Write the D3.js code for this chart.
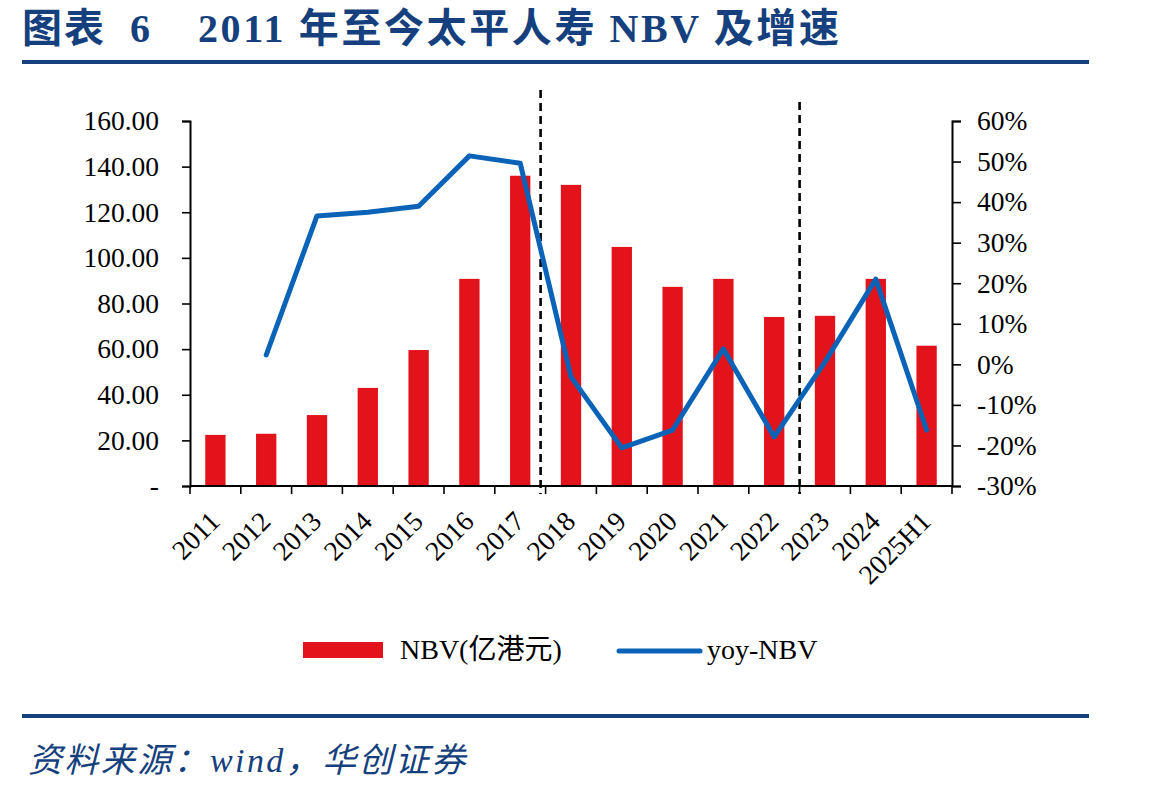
<!DOCTYPE html>
<html>
<head>
<meta charset="utf-8">
<script src="https://cdn.jsdelivr.net/npm/d3@7/dist/d3.min.js"></script>
<style>
  body { margin: 0; background: #fff; }
  svg text { font-family: "Liberation Serif", "Times New Roman", "Noto Sans CJK SC", serif; }
</style>
</head>
<body>
<div id="chart"></div>
<script>
// data
var years = ['2011', '2012', '2013', '2014', '2015', '2016', '2017', '2018', '2019', '2020', '2021', '2022', '2023', '2024', '2025H1'];
var nbv = [22.4, 22.9, 31.1, 43.0, 59.6, 90.8, 136.0, 132.0, 104.8, 87.3, 90.8, 74.1, 74.6, 90.8, 61.5];
var yoy = [null, 2.3, 36.6, 37.5, 39.0, 51.4, 49.6, -3.1, -20.6, -16.2, 3.8, -17.9, 0.6, 21.0, -16.2];
var leftTicks = [0, 20, 40, 60, 80, 100, 120, 140, 160];
var rightTicks = [-30, -20, -10, 0, 10, 20, 30, 40, 50, 60];
var dividers = ['2018', '2023'];

var titleText = '2011 年至今太平人寿 NBV 及增速';
var sourceText = '资料来源：wind，华创证券';

var red = '#e3131b', blue = '#0b63b8', navy = '#153f7d';

var svgWidth = 1149, svgHeight = 792;
var margin = {top: 121, left: 190, right: 197, bottom: 306};
var width = svgWidth - margin.left - margin.right,
	height = svgHeight - margin.top - margin.bottom;
var tickFont = 27.5;

var svg = d3.select('#chart').append('svg')
	.attr('width', svgWidth)
	.attr('height', svgHeight);

// header / footer
svg.append('text')
	.attr('x', 22).attr('y', 42)
	.attr('fill', navy)
	.attr('font-size', 40)
	.attr('font-weight', 'bold')
	.attr('letter-spacing', 2)
	.text('图表');
svg.append('text')
	.attr('x', 130).attr('y', 42)
	.attr('fill', navy)
	.attr('font-size', 40)
	.attr('font-weight', 'bold')
	.text('6');
svg.append('text')
	.attr('x', 198).attr('y', 42)
	.attr('fill', navy)
	.attr('font-size', 40)
	.attr('font-weight', 'bold')
	.attr('letter-spacing', 2.6)
	.text(titleText);
svg.append('rect')
	.attr('x', 22).attr('y', 60).attr('width', 1067).attr('height', 4)
	.attr('fill', navy);
svg.append('rect')
	.attr('x', 22).attr('y', 714).attr('width', 1067).attr('height', 4)
	.attr('fill', navy);
svg.append('text')
	.attr('x', 28).attr('y', 772)
	.attr('fill', navy)
	.attr('font-size', 34)
	.attr('font-style', 'italic')
	.attr('letter-spacing', 2.4)
	.text(sourceText);

var g = svg.append('g')
	.attr('transform', 'translate(' + margin.left + ',' + margin.top + ')');

var x = d3.scaleBand().domain(years).range([0, width]).paddingInner(0.6).paddingOuter(0.3);
var xb = d3.scaleBand().domain(years).range([0, width]);
var yL = d3.scaleLinear().domain([0, 160]).range([height, 0]);
var yR = d3.scaleLinear().domain([-30, 60]).range([height, 0]);

// bars
g.selectAll('.bar')
	.data(nbv)
	.enter().append('rect')
	.attr('class', 'bar')
	.attr('x', function(d, i) { return x(years[i]); })
	.attr('width', x.bandwidth())
	.attr('y', function(d) { return yL(d); })
	.attr('height', function(d) { return height - yL(d); })
	.attr('fill', red);

// axes
var axisL = g.append('g')
	.call(d3.axisLeft(yL).tickValues(leftTicks).tickSizeOuter(0).tickSize(8).tickPadding(23)
		.tickFormat(function(d) { return d === 0 ? '-' : d3.format('.2f')(d); }));
var axisR = g.append('g')
	.attr('transform', 'translate(' + width + ',0)')
	.call(d3.axisRight(yR).tickValues(rightTicks).tickSizeOuter(0).tickSize(9).tickPadding(16)
		.tickFormat(function(d) { return d + '%'; }));

var bounds = years.map(function(d) { return xb(d); }).concat([width]);
var axisB = g.append('g').attr('transform', 'translate(0,' + height + ')');
axisB.append('line')
	.attr('x1', 0).attr('x2', width)
	.attr('stroke', '#000').attr('stroke-width', 2);
axisB.selectAll('.tk')
	.data(bounds)
	.enter().append('line')
	.attr('x1', function(d) { return d; })
	.attr('x2', function(d) { return d; })
	.attr('y1', 0).attr('y2', 8)
	.attr('stroke', '#000').attr('stroke-width', 1.6);
axisB.selectAll('.lbl')
	.data(years)
	.enter().append('text')
	.attr('transform', function(d) {
		return 'translate(' + (xb(d) + xb.bandwidth() / 2 + 6) + ',37) rotate(-45)';
	})
	.attr('text-anchor', 'end')
	.attr('font-size', tickFont)
	.attr('fill', '#000')
	.text(function(d) { return d; });

[axisL, axisR].forEach(function(a) {
	a.select('.domain').attr('stroke', '#000').attr('stroke-width', 2);
	a.selectAll('.tick line').attr('stroke', '#000').attr('stroke-width', 1.6);
	a.selectAll('.tick text')
		.attr('font-size', tickFont)
		.attr('fill', '#000')
		.style('font-family', '"Liberation Serif", serif');
});

// dashed dividers
g.selectAll('.divider')
	.data(dividers)
	.enter().append('line')
	.attr('x1', function(d, i) { return xb(d) - (i === 0 ? 5 : 0); })
	.attr('x2', function(d, i) { return xb(d) - (i === 0 ? 5 : 0); })
	.attr('y1', function(d, i) { return i === 0 ? -31 : -19; })
	.attr('y2', height + 8)
	.attr('stroke', '#000')
	.attr('stroke-width', 2.6)
	.attr('stroke-dasharray', '8,5');

// yoy line
var line = d3.line()
	.defined(function(d) { return d != null; })
	.x(function(d, i) { return xb(years[i]) + xb.bandwidth() / 2; })
	.y(function(d) { return yR(d); });
g.append('path')
	.datum(yoy)
	.attr('d', line)
	.attr('fill', 'none')
	.attr('stroke', blue)
	.attr('stroke-width', 5)
	.attr('stroke-linejoin', 'round')
	.attr('stroke-linecap', 'round');

// legend
var lg = svg.append('g');
lg.append('rect')
	.attr('x', 303).attr('y', 642).attr('width', 80).attr('height', 16)
	.attr('fill', red);
lg.append('text')
	.attr('x', 400).attr('y', 659)
	.attr('font-size', 28)
	.text('NBV(亿港元)');
lg.append('line')
	.attr('x1', 619).attr('x2', 700).attr('y1', 651).attr('y2', 651)
	.attr('stroke', blue).attr('stroke-width', 5).attr('stroke-linecap', 'round');
lg.append('text')
	.attr('x', 707).attr('y', 659)
	.attr('font-size', 28)
	.text('yoy-NBV');
</script>
</body>
</html>
